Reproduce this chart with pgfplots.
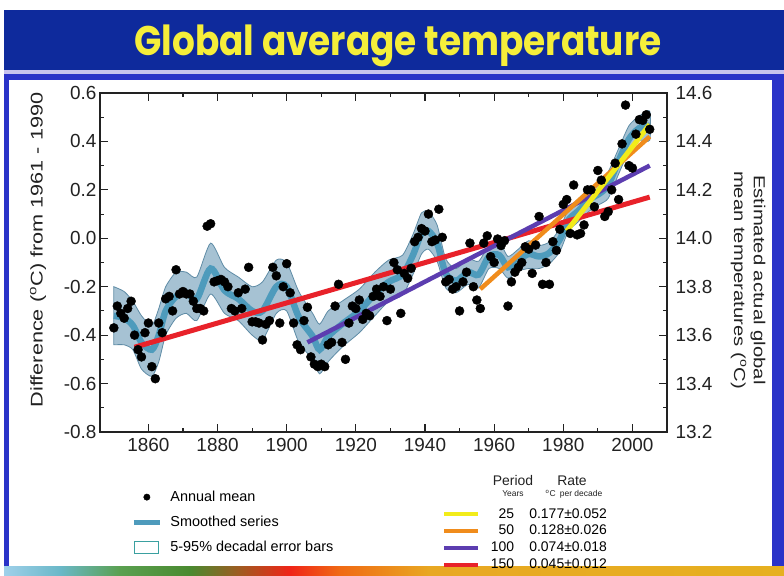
\documentclass[border=0pt]{standalone}
\usepackage{graphicx}
\usepackage{pgfplots}
\pgfplotsset{compat=1.18}
\usepackage{pgfplotstable}
\usepackage{fontspec}
\setmainfont{Liberation Sans}
\newfontfamily\titlefont{Poppins}

\definecolor{navy}{HTML}{0E2A9C}
\definecolor{lav}{HTML}{C8C3EE}
\definecolor{framec}{HTML}{2A33C8}
\definecolor{ttl}{HTML}{F5EE3A}
\definecolor{bandfill}{HTML}{A6C2D3}
\definecolor{bandedge}{HTML}{5F8CA6}
\definecolor{smoothc}{HTML}{4E9BBC}
\definecolor{errc}{HTML}{3AA0A0}
\definecolor{tred}{HTML}{E8222A}
\definecolor{tpur}{HTML}{5C3DB0}
\definecolor{tora}{HTML}{F08C1C}
\definecolor{tyel}{HTML}{F2EC1A}
\definecolor{axc}{HTML}{222222}
\definecolor{s1}{HTML}{9FD0EA}
\definecolor{s2}{HTML}{6AB8C8}
\definecolor{s3}{HTML}{5AA050}
\definecolor{s4}{HTML}{4A8A30}
\definecolor{s5}{HTML}{A05A20}
\definecolor{s6}{HTML}{F02418}
\definecolor{s7}{HTML}{F06A14}
\definecolor{s8}{HTML}{E8A822}
\definecolor{s9}{HTML}{E6B020}

\pgfplotsset{/pgf/number format/1000 sep={}, /pgf/number format/assume math mode=true}

\pgfplotstableread{
year val
1850 -0.37
1851 -0.28
1852 -0.31
1853 -0.33
1854 -0.29
1855 -0.26
1856 -0.40
1857 -0.46
1858 -0.49
1859 -0.39
1860 -0.35
1861 -0.53
1862 -0.58
1863 -0.35
1864 -0.39
1865 -0.25
1866 -0.24
1867 -0.30
1868 -0.13
1869 -0.23
1870 -0.22
1871 -0.23
1872 -0.23
1873 -0.26
1874 -0.29
1875 -0.29
1876 -0.30
1877 0.05
1878 0.06
1879 -0.18
1880 -0.175
1881 -0.17
1882 -0.18
1883 -0.20
1884 -0.29
1885 -0.30
1886 -0.225
1887 -0.29
1888 -0.21
1889 -0.12
1890 -0.345
1891 -0.345
1892 -0.35
1893 -0.42
1894 -0.355
1895 -0.34
1896 -0.12
1897 -0.155
1898 -0.35
1899 -0.20
1900 -0.105
1901 -0.225
1902 -0.35
1903 -0.44
1904 -0.46
1905 -0.34
1906 -0.285
1907 -0.49
1908 -0.52
1909 -0.53
1910 -0.52
1911 -0.53
1912 -0.44
1913 -0.43
1914 -0.28
1915 -0.19
1916 -0.43
1917 -0.50
1918 -0.35
1919 -0.28
1920 -0.29
1921 -0.255
1922 -0.335
1923 -0.31
1924 -0.32
1925 -0.24
1926 -0.21
1927 -0.24
1928 -0.20
1929 -0.34
1930 -0.21
1931 -0.10
1932 -0.13
1933 -0.31
1934 -0.145
1935 -0.165
1936 -0.124
1937 -0.014
1938 0.004
1939 0.04
1940 0.03
1941 0.10
1942 -0.014
1943 -0.007
1944 0.12
1945 0.004
1946 -0.18
1947 -0.17
1948 -0.21
1949 -0.20
1950 -0.30
1951 -0.18
1952 -0.14
1953 -0.02
1954 -0.20
1955 -0.255
1956 -0.29
1957 -0.02
1958 0.01
1959 -0.076
1960 -0.10
1961 -0.003
1962 -0.03
1963 -0.01
1964 -0.28
1965 -0.18
1966 -0.14
1967 -0.12
1968 -0.10
1969 -0.035
1970 -0.045
1971 -0.145
1972 -0.028
1973 0.09
1974 -0.19
1975 -0.10
1976 -0.19
1977 -0.014
1978 -0.05
1979 0.037
1980 0.14
1981 0.16
1982 0.02
1983 0.22
1984 0.014
1985 0.02
1986 0.055
1987 0.20
1988 0.20
1989 0.13
1990 0.28
1991 0.24
1992 0.09
1993 0.11
1994 0.20
1995 0.31
1996 0.16
1997 0.39
1998 0.55
1999 0.30
2000 0.29
2001 0.43
2002 0.49
2003 0.487
2004 0.51
2005 0.45
}\annual

% smoothed series
\pgfplotstableread{
year sm
1850 -0.32
1853 -0.33
1855.5 -0.36
1858 -0.43
1861 -0.46
1863 -0.40
1865 -0.30
1868 -0.24
1871 -0.225
1874 -0.25
1878 -0.125
1882 -0.215
1886 -0.25
1890 -0.30
1893 -0.30
1897 -0.20
1900 -0.20
1903.5 -0.325
1907.5 -0.405
1909.5 -0.46
1912 -0.405
1916 -0.355
1921 -0.30
1925.5 -0.23
1929.5 -0.18
1933.5 -0.15
1936.5 -0.07
1939 0.02
1941 0.03
1943.5 -0.02
1946 -0.145
1949 -0.175
1952.5 -0.14
1955.5 -0.15
1958.5 -0.075
1961.5 -0.07
1964 -0.12
1967 -0.09
1970 -0.065
1973 -0.075
1976 -0.06
1979 -0.005
1981.5 0.075
1984.5 0.115
1987.5 0.16
1990.5 0.185
1993 0.22
1996 0.32
1999 0.41
2002 0.455
2005 0.465
}\smoothed

% 5-95% band outline: upper edge forward, lower edge backward
\pgfplotstableread{
year v
1850 -0.20
1853 -0.22
1855.5 -0.26
1858 -0.32
1861 -0.36
1863 -0.29
1865 -0.20
1868 -0.14
1871 -0.14
1874 -0.16
1878 -0.02
1882 -0.12
1886 -0.16
1890 -0.20
1893 -0.18
1897 -0.09
1900 -0.10
1903.5 -0.22
1907.5 -0.31
1909.5 -0.355
1912 -0.30
1916 -0.26
1921 -0.21
1925.5 -0.14
1929.5 -0.09
1933.5 -0.07
1936.5 0.015
1939 0.105
1941 0.11
1943.5 0.055
1946 -0.085
1949 -0.125
1952.5 -0.085
1955.5 -0.095
1958.5 -0.03
1961.5 -0.015
1964 -0.075
1967 -0.045
1970 -0.01
1973 -0.03
1976 -0.015
1979 0.04
1981.5 0.12
1984.5 0.165
1987.5 0.205
1990.5 0.235
1993 0.275
1996 0.37
1999 0.465
2002 0.505
2005 0.525
2005 0.405
2002 0.405
1999 0.36
1996 0.265
1993 0.165
1990.5 0.14
1987.5 0.112
1984.5 0.07
1981.5 0.03
1979 -0.055
1976 -0.105
1973 -0.125
1970 -0.125
1967 -0.135
1964 -0.165
1961.5 -0.125
1958.5 -0.125
1955.5 -0.205
1952.5 -0.19
1949 -0.225
1946 -0.205
1943.5 -0.095
1941 -0.045
1939 -0.065
1936.5 -0.15
1933.5 -0.235
1929.5 -0.26
1925.5 -0.32
1921 -0.39
1916 -0.45
1912 -0.51
1909.5 -0.56
1907.5 -0.50
1903.5 -0.43
1900 -0.30
1897 -0.31
1893 -0.42
1890 -0.40
1886 -0.34
1882 -0.31
1878 -0.23
1874 -0.34
1871 -0.31
1868 -0.33
1865 -0.40
1863 -0.51
1861 -0.57
1858 -0.54
1855.5 -0.46
1853 -0.44
1850 -0.44
}\bandpoly

\begin{document}
\begin{tikzpicture}
% page background and slide frame
\fill[white] (0bp,0bp) rectangle (784bp,576bp);
\fill[navy] (4bp,506bp) rectangle (784bp,566bp);
\fill[lav] (4bp,502bp) rectangle (784bp,506bp);
\fill[framec] (4bp,496bp) rectangle (784bp,502bp);
\fill[framec] (4bp,9bp) rectangle (9bp,502bp);
\fill[framec] (772bp,9bp) rectangle (784bp,502bp);
\shade[left color=s1,right color=s2] (4bp,0bp) rectangle (60bp,9bp);
\shade[left color=s2,right color=s3] (60bp,0bp) rectangle (120bp,9bp);
\shade[left color=s3,right color=s4] (120bp,0bp) rectangle (190bp,9bp);
\shade[left color=s4,right color=s5] (190bp,0bp) rectangle (240bp,9bp);
\shade[left color=s5,right color=s6] (240bp,0bp) rectangle (290bp,9bp);
\shade[left color=s6,right color=s7] (290bp,0bp) rectangle (340bp,9bp);
\shade[left color=s7,right color=s8] (340bp,0bp) rectangle (430bp,9bp);
\shade[left color=s8,right color=s9] (430bp,0bp) rectangle (784bp,9bp);

\node[text=ttl, inner sep=0pt] at (398bp,530bp)
  {\resizebox*{527bp}{42bp}{\titlefont\bfseries Global average temperature}};

\begin{axis}[
  at={(100bp,144bp)}, anchor=south west,
  scale only axis, width=567bp, height=339bp,
  xmin=1846, xmax=2010, ymin=-0.8, ymax=0.6,
  xtick={1860,1880,1900,1920,1940,1960,1980,2000},
  ytick={-0.8,-0.6,-0.4,-0.2,0,0.2,0.4,0.6},
  minor x tick num=1, minor y tick num=1,
  ytick pos=left, xtick pos=both, xticklabel pos=bottom,
  tick align=inside,
  major tick length=8bp, minor tick length=4bp,
  axis line style={line width=1.3bp, color=axc},
  every tick/.style={line width=1.1bp, color=axc},
  tick label style={font=\fontsize{19}{21}\selectfont, text=axc},
  xticklabel style={yshift=-3bp},
  yticklabel style={/pgf/number format/fixed, /pgf/number format/fixed zerofill, /pgf/number format/precision=1},
  legend style={at={(axis description cs:0.055,-0.168)}, anchor=north west,
    draw=none, fill=none, inner sep=0pt,
    font=\fontsize{14.5}{16}\selectfont, row sep=9bp},
  legend cell align=left,
  legend image code/.code={\draw[mark repeat=2,mark phase=2,#1] plot coordinates {(0bp,0bp) (13bp,0bp) (26bp,0bp)};},
]
\addplot[fill=bandfill, draw=bandedge, line width=0.8bp, smooth, tension=0.4, forget plot] table[x=year,y=v]{\bandpoly} -- cycle;
\addplot[smoothc, line width=6.5bp, smooth, forget plot] table[x=year,y=sm]{\smoothed};
\addplot[only marks, mark=*, mark size=4.5bp, mark options={draw=black, fill=black}, forget plot] table[x=year,y=val]{\annual};
\addplot[tred, line width=5bp, forget plot] coordinates {(1856,-0.45) (2005,0.17)};
\addplot[tpur, line width=4.5bp, forget plot] coordinates {(1906,-0.43) (2005,0.30)};
\addplot[tora, line width=4.5bp, forget plot] coordinates {(1956,-0.21) (2005,0.42)};
\addplot[tyel, line width=5bp, forget plot] coordinates {(1981,0.03) (2005,0.47)};

\addlegendimage{only marks, mark=*, mark size=3.2bp, mark options={draw=black, fill=black}}
\addlegendentry{\hspace{6bp}Annual mean}
\addlegendimage{smoothc, line width=5bp}
\addlegendentry{\hspace{6bp}Smoothed series}
\addlegendimage{legend image code/.code={\draw[errc, line width=1bp, fill=white] (1bp,-6bp) rectangle (25bp,6bp);}}
\addlegendentry{\hspace{6bp}5-95\% decadal error bars}
\end{axis}

\begin{axis}[
  at={(100bp,144bp)}, anchor=south west,
  scale only axis, width=567bp, height=339bp,
  xmin=1846, xmax=2010, ymin=13.2, ymax=14.6,
  axis x line=none, axis y line*=right,
  ytick={13.2,13.4,13.6,13.8,14.0,14.2,14.4,14.6},
  minor y tick num=1,
  tick align=inside,
  major tick length=8bp, minor tick length=4bp,
  axis line style={line width=1.3bp, color=axc, -},
  every tick/.style={line width=1.1bp, color=axc},
  tick label style={font=\fontsize{19}{21}\selectfont, text=axc},
  yticklabel style={xshift=5bp, /pgf/number format/fixed, /pgf/number format/fixed zerofill, /pgf/number format/precision=1},
  legend style={at={(axis description cs:0.603,-0.220)}, anchor=north west,
    draw=none, fill=none, inner sep=0pt,
    font=\fontsize{14}{15}\selectfont, row sep=2.7bp,
    nodes={inner ysep=1.5bp, inner xsep=4bp}},
  legend cell align=left,
  legend image code/.code={\draw[#1] (0bp,0bp) -- (34bp,0bp);},
]
\addlegendimage{tyel, line width=4bp}
\addlegendentry{\makebox[30bp][r]{25}\makebox[108bp][c]{0.177±0.052}}
\addlegendimage{tora, line width=4bp}
\addlegendentry{\makebox[30bp][r]{50}\makebox[108bp][c]{0.128±0.026}}
\addlegendimage{tpur, line width=4bp}
\addlegendentry{\makebox[30bp][r]{100}\makebox[108bp][c]{0.074±0.018}}
\addlegendimage{tred, line width=4bp}
\addlegendentry{\makebox[30bp][r]{150}\makebox[108bp][c]{0.045±0.012}}
\end{axis}

% axis titles
\node[rotate=90, inner sep=0pt, text=axc] at (38bp,326bp)
  {\scalebox{1.28}[1]{\fontsize{17}{19}\selectfont Difference (\textsuperscript{o}C) from 1961 - 1990}};
\node[rotate=-90, inner sep=0pt, text=axc] at (748bp,296bp)
  {\scalebox{1.27}[1]{\fontsize{16}{20}\selectfont\begin{tabular}{@{}c@{}}Estimated actual global\\ mean temperatures (\textsuperscript{o}C)\end{tabular}}};

% legend column headers
\node[font=\fontsize{14}{16}\selectfont, text=axc] at (513bp,95bp) {Period};
\node[font=\fontsize{8.5}{10}\selectfont, text=axc] at (513bp,82bp) {Years};
\node[font=\fontsize{14}{16}\selectfont, text=axc] at (572bp,95bp) {Rate};
\node[font=\fontsize{8.5}{10}\selectfont, text=axc] at (574bp,82bp) {\textsuperscript{o}C\enspace per decade};
\end{tikzpicture}
\end{document}
